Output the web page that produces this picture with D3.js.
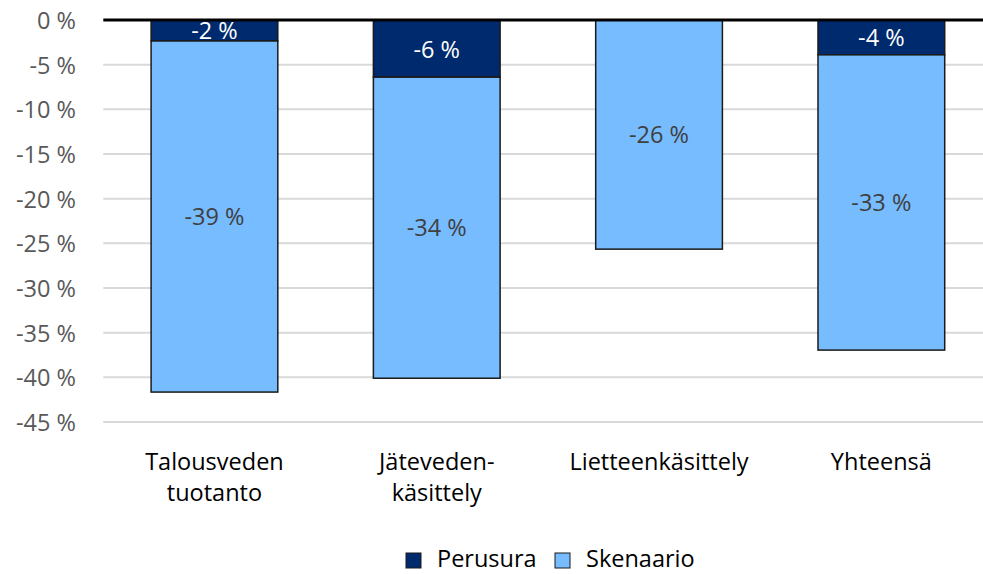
<!DOCTYPE html>
<html><head><meta charset="utf-8">
<script src="https://cdn.jsdelivr.net/npm/d3@7"></script>
<style>body{margin:0;background:#fff}svg{display:block}text{font-family:"Open Sans",sans-serif}</style>
</head><body><svg id="c" width="983" height="574"></svg>
<script>
const categories = [["Talousveden","tuotanto"],["Jäteveden-","käsittely"],["Lietteenkäsittely"],["Yhteensä"]];
const seriesNames = ["Perusura","Skenaario"];
const perusura = [-2.35, -6.4, 0, -3.9];
const skenaario = [-39.3, -33.7, -25.65, -33.05];
const perusuraLabels = ["-2 %","-6 %","","-4 %"];
const skenaarioLabels = ["-39 %","-34 %","-26 %","-33 %"];
const yTicks = [0,-5,-10,-15,-20,-25,-30,-35,-40,-45];
const colors = ["#002a6e","#77bcff"];

(function(){
const FS = 23.5;
const svg = d3.select("#c");
const pl = 103.3, pr = 992.5, pt = 20, pb = 422;
const x = d3.scaleBand().domain(d3.range(categories.length)).range([pl,pr]).paddingInner(0.43).paddingOuter(0.215);
const y = d3.scaleLinear().domain([0,-45]).range([pt,pb]);

// grid
svg.append("g").selectAll("line").data(yTicks.filter(d=>d!==0)).join("line")
  .attr("x1",pl).attr("x2",983).attr("y1",d=>y(d)).attr("y2",d=>y(d))
  .attr("stroke","#d9d9d9").attr("stroke-width",2);

// y axis labels
const yAxis = d3.axisLeft(y).tickValues(yTicks).tickSize(0).tickPadding(0).tickFormat(d=>d+" %");
const ga = svg.append("g").attr("transform","translate(76,0)").call(yAxis);
ga.select(".domain").remove();
ga.selectAll("text").attr("font-size",FS).attr("fill","#595959").attr("font-family","'Open Sans',sans-serif").attr("dy","0.36em");

// bars
const stacks = categories.map((c,i)=>({i, p0:0, p1:perusura[i], s0:perusura[i], s1:perusura[i]+skenaario[i]}));
const g = svg.append("g");
stacks.forEach(d=>{
  if (d.p1!==0) g.append("rect").attr("x",x(d.i)).attr("width",x.bandwidth())
    .attr("y",y(d.p0)).attr("height",y(d.p1)-y(d.p0))
    .attr("fill",colors[0]).attr("stroke","#1a1a1a").attr("stroke-width",1.5);
  g.append("rect").attr("x",x(d.i)).attr("width",x.bandwidth())
    .attr("y",y(d.s0)).attr("height",y(d.s1)-y(d.s0))
    .attr("fill",colors[1]).attr("stroke","#1a1a1a").attr("stroke-width",1.5);
});
// labels
stacks.forEach(d=>{
  const cx = x(d.i)+x.bandwidth()/2;
  if (perusuraLabels[d.i]) g.append("text").attr("x",cx).attr("y",(y(d.p0)+y(d.p1))/2)
    .attr("dy","0.38em").attr("text-anchor","middle").attr("font-size",FS).attr("fill","#fff").text(perusuraLabels[d.i]);
  g.append("text").attr("x",cx).attr("y",(y(d.s0)+y(d.s1))/2)
    .attr("dy","0.36em").attr("text-anchor","middle").attr("font-size",FS).attr("fill","#404040").text(skenaarioLabels[d.i]);
});

// zero line
svg.append("line").attr("x1",pl).attr("x2",983).attr("y1",y(0)).attr("y2",y(0)).attr("stroke","#000").attr("stroke-width",3);

// category labels
categories.forEach((lines,i)=>{
  const t = svg.append("text").attr("text-anchor","middle").attr("font-size",FS).attr("fill","#000");
  lines.forEach((l,k)=>t.append("tspan").attr("x",x(i)+x.bandwidth()/2).attr("y",470+k*31).text(l));
});

// legend
const lg = svg.append("g");
const items = [{n:seriesNames[0],c:colors[0],x:406},{n:seriesNames[1],c:colors[1],x:555}];
items.forEach(it=>{
  lg.append("rect").attr("x",it.x).attr("y",553).attr("width",15).attr("height",15).attr("fill",it.c).attr("stroke","#1a1a1a").attr("stroke-width",1);
  lg.append("text").attr("x",it.x+31).attr("y",567).attr("font-size",FS).attr("fill","#000").text(it.n);
});
})();
</script></body></html>
